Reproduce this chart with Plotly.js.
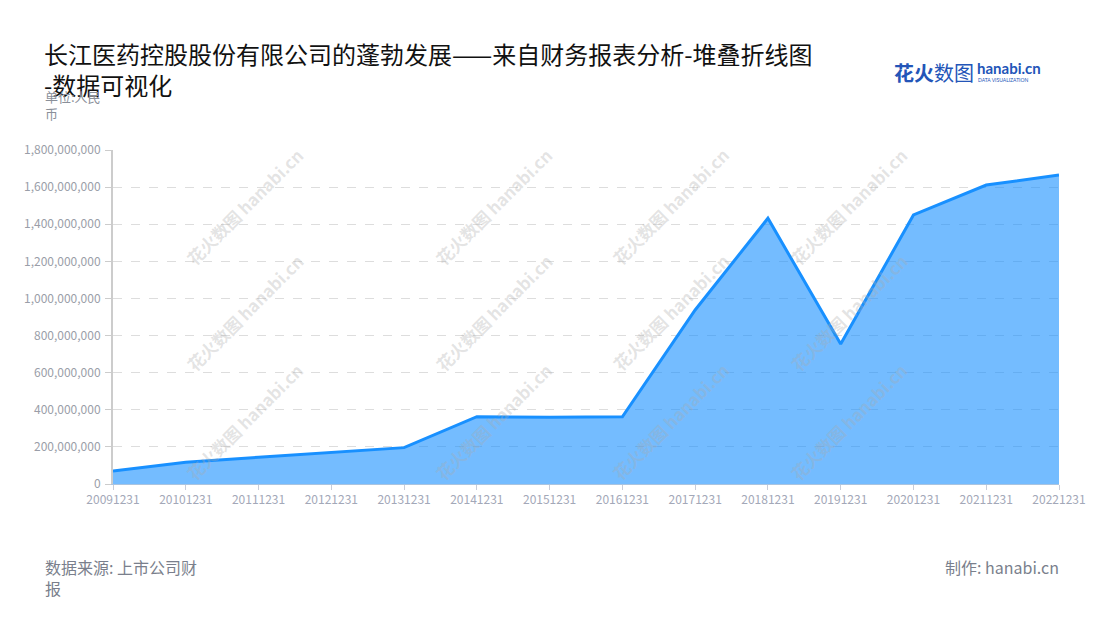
<!DOCTYPE html>
<html>
<head>
<meta charset="utf-8">
<script src="https://cdn.plot.ly/plotly-3.0.1.min.js"></script>
<style>html,body{margin:0;padding:0;background:#fff;}#chart{width:1100px;height:620px;}</style>
</head>
<body>
<div id="chart"></div>
<script>
const categories = ["20091231","20101231","20111231","20121231","20131231","20141231","20151231","20161231","20171231","20181231","20191231","20201231","20211231","20221231"];
const values = [70000000,117000000,144000000,171000000,196000000,363000000,360000000,362000000,938000000,1432000000,754000000,1450000000,1611000000,1665000000];
const yTickVals = [0,200000000,400000000,600000000,800000000,1000000000,1200000000,1400000000,1600000000,1800000000];
const yTickText = ["0","200,000,000","400,000,000","600,000,000","800,000,000","1,000,000,000","1,200,000,000","1,400,000,000","1,600,000,000","1,800,000,000"];

const trace = {
  x: categories, y: values, type: 'scatter', mode: 'lines',
  fill: 'tozeroy', fillcolor: 'rgba(24,144,255,0.6)',
  line: {color: '#1890ff', width: 3},
  hoverinfo: 'x+y'
};

const font = "'Noto Sans CJK SC', 'Noto Sans', sans-serif";
const PL = 113, PT = 150, PW = 946, PH = 334;
const px = x => (x - PL) / PW;
const py = y => (PT + PH - y) / PH;

const wm = [];
const wmX = [178, 427, 670, 915];
const wmY = [140, 312, 488];
wmX.forEach(x => wmY.forEach(y => {
  wm.push({xref:'paper', yref:'paper', x:px(x), y:py(y), text:'<b>花火数图</b> <b>hanabi.cn</b>', showarrow:false, textangle:-45,
    font:{family:font, size:17, color:'rgba(170,170,170,0.32)'}});
}));

const layout = {
  width: 1100, height: 620,
  margin: {l: PL, r: 1100-PL-PW, t: PT, b: 620-PT-PH},
  paper_bgcolor: '#fff', plot_bgcolor: '#fff',
  showlegend: false,
  title: {text: '长江医药控股股份有限公司的蓬勃发展——来自财务报表分析-堆叠折线图<br>-数据可视化', x: 44/1100, xanchor: 'left', y: 1-64/620, yanchor: 'top',
    font: {family: font, size: 24, color: '#111'}},
  xaxis: {
    type: 'category', range: [0, categories.length-1],
    showgrid: false, showline: true, linecolor: '#aac4e0', linewidth: 1,
    ticks: 'outside', ticklen: 5, tickcolor: '#c8ccd8',
    tickfont: {family: font, size: 12, color: '#a3a8b8'}, tickangle: 0
  },
  yaxis: {
    range: [0, 1800000000], tickvals: yTickVals, ticktext: yTickText,
    showgrid: true, gridcolor: '#dddddd', griddash: 'dash', gridwidth: 1,
    showline: true, linecolor: '#cccccc', linewidth: 2, zeroline: false,
    ticks: 'outside', ticklen: 6, tickcolor: '#cccccc', ticklabelstandoff: 2,
    tickfont: {family: font, size: 12, color: '#9a9ea8'}
  },
  annotations: wm.concat([
    {xref:'paper', yref:'paper', x:px(43), y:py(105), xanchor:'left', yanchor:'middle', showarrow:false, align:'left',
     text:'单位:人民<br>币', font:{family:font, size:13, color:'#8a8f99'}},
    {xref:'paper', yref:'paper', x:px(43), y:py(577), xanchor:'left', yanchor:'middle', showarrow:false, align:'left',
     text:'数据来源: 上市公司财<br>报', font:{family:font, size:16, color:'#7a7f8c'}},
    {xref:'paper', yref:'paper', x:px(1061), y:py(567), xanchor:'right', yanchor:'middle', showarrow:false, align:'right',
     text:'制作: hanabi.cn', font:{family:font, size:16, color:'#7a7f8c'}},
    {xref:'paper', yref:'paper', x:px(892), y:py(72), xanchor:'left', yanchor:'middle', showarrow:false,
     text:'<b>花火</b>数图', font:{family:font, size:20, color:'#2355b8'}},
    {xref:'paper', yref:'paper', x:px(975), y:py(68), xanchor:'left', yanchor:'middle', showarrow:false,
     text:'<b>hanabi.cn</b>', font:{family:"'Lato', sans-serif", size:15, color:'#2355b8'}},
    {xref:'paper', yref:'paper', x:px(976), y:py(80), xanchor:'left', yanchor:'middle', showarrow:false,
     text:'DATA VISUALIZATION', font:{family:"'Lato', sans-serif", size:5, color:'#2355b8'}}
  ])
};

Plotly.newPlot('chart', [trace], layout, {displayModeBar: false, responsive: false});
</script>
</body>
</html>
